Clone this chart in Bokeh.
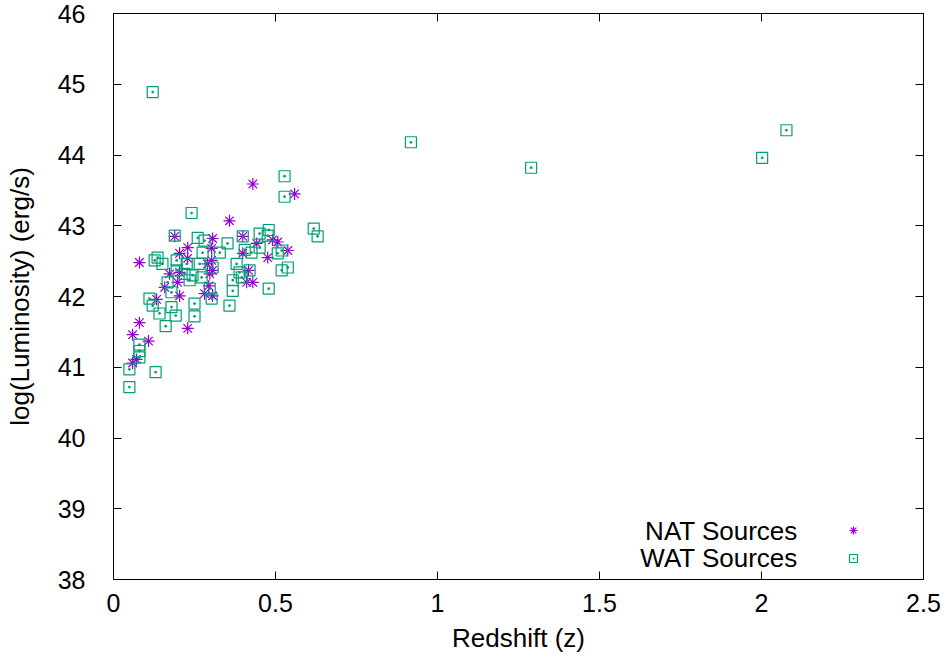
from bokeh.plotting import figure
from bokeh.models import (ColumnDataSource, LinearAxis, FixedTicker, Range1d,
                          Label, Legend, LegendItem)
from bokeh.embed import file_html
from bokeh.resources import INLINE

# ---- data ----
nat_z = [0.080, 0.358, 0.430, 0.559, 0.538, 0.507, 0.491, 0.476, 0.442, 0.399,
         0.399, 0.417, 0.411, 0.430, 0.306, 0.303, 0.290, 0.303, 0.306, 0.297,
         0.294, 0.281, 0.306, 0.229, 0.229, 0.204, 0.189, 0.173, 0.204, 0.198,
         0.158, 0.204, 0.133, 0.229, 0.080, 0.059, 0.108, 0.071, 0.059]
nat_l = [42.48, 43.07, 43.59, 43.45, 42.65, 42.77, 42.80, 42.55, 42.75, 42.85,
         42.61, 42.37, 42.20, 42.20, 42.82, 42.68, 42.46, 42.51, 42.37, 42.32,
         42.15, 42.04, 42.01, 42.69, 42.54, 42.61, 42.85, 42.32, 42.34, 42.20,
         42.13, 42.01, 41.96, 41.55, 41.63, 41.46, 41.37, 41.11, 41.06]

wat_z = [0.121, 0.918, 1.289, 2.002, 2.077, 0.241, 0.528, 0.528, 0.618, 0.630,
         0.519, 0.538, 0.519, 0.479, 0.479, 0.476, 0.451, 0.451, 0.426, 0.507,
         0.420, 0.368, 0.368, 0.358, 0.399, 0.352, 0.380, 0.389, 0.328, 0.306,
         0.281, 0.260, 0.275, 0.266, 0.226, 0.195, 0.151, 0.136, 0.127, 0.189,
         0.195, 0.219, 0.244, 0.272, 0.167, 0.235, 0.297, 0.303, 0.179, 0.250,
         0.250, 0.179, 0.192, 0.161, 0.142, 0.121, 0.111, 0.130, 0.049, 0.049,
         0.080, 0.080, 0.080, 0.405, 0.396]
wat_l = [44.89, 44.18, 43.82, 43.96, 44.35, 43.18, 43.70, 43.41, 42.96, 42.85,
         42.65, 42.41, 42.37, 42.11, 42.94, 42.86, 42.89, 42.69, 42.62, 42.61,
         42.37, 42.23, 42.08, 41.87, 42.85, 42.75, 42.46, 42.34, 42.62, 42.41,
         42.79, 42.83, 42.62, 42.46, 42.46, 42.51, 42.46, 42.55, 42.51, 42.86,
         42.37, 42.32, 42.30, 42.27, 42.20, 42.23, 42.11, 41.97, 42.06, 41.90,
         41.72, 41.85, 41.73, 41.58, 41.76, 41.87, 41.97, 40.93, 40.97, 40.72,
         41.32, 41.23, 41.14, 42.66, 42.27]

x_ticks = [0, 0.5, 1, 1.5, 2, 2.5]
x_tick_labels = ["0", "0.5", "1", "1.5", "2", "2.5"]
y_ticks = [38, 39, 40, 41, 42, 43, 44, 45, 46]
y_tick_labels = ["38", "39", "40", "41", "42", "43", "44", "45", "46"]

NAT_COLOR = "#9400D3"
WAT_COLOR = "#009E73"
FONT = "Liberation Sans"

p = figure(width=947, height=666, output_backend="svg", toolbar_location=None,
           x_range=Range1d(0, 2.5), y_range=Range1d(38, 46),
           min_border_left=113, min_border_right=24, min_border_top=13,
           min_border_bottom=87)
p.xgrid.visible = False
p.ygrid.visible = False
p.outline_line_color = "black"
p.outline_line_width = 1
p.background_fill_color = "white"
p.border_fill_color = "white"

nat_src = ColumnDataSource(dict(z=nat_z, l=nat_l))
wat_src = ColumnDataSource(dict(z=wat_z, l=wat_l))

r_nat = p.scatter("z", "l", source=nat_src, marker="asterisk", size=12,
                  line_color=NAT_COLOR, line_width=1.2)
r_wat = p.scatter("z", "l", source=wat_src, marker="square_dot", size=11,
                  line_color=WAT_COLOR, fill_color=None, line_width=1.2)

def style_axis(ax, show_labels):
    ax.axis_line_color = "black"
    ax.major_tick_line_color = "black"
    ax.major_tick_in = 8
    ax.major_tick_out = 0
    ax.minor_tick_line_color = None
    if show_labels:
        ax.major_label_text_font = FONT
        ax.major_label_text_font_size = "25px"
        ax.major_label_text_color = "black"
        ax.axis_label_text_font = FONT
        ax.axis_label_text_font_size = "26px"
        ax.axis_label_text_font_style = "normal"
        ax.axis_label_text_color = "black"
    else:
        ax.major_label_text_color = None
        ax.major_label_standoff = 0

xa = p.xaxis[0]
xa.ticker = FixedTicker(ticks=x_ticks)
xa.major_label_overrides = {t: s for t, s in zip(x_ticks, x_tick_labels)}
xa.axis_label = "Redshift (z)"
style_axis(xa, True)
xa.major_label_standoff = 14
xa.axis_label_standoff = 8

ya = p.yaxis[0]
ya.ticker = FixedTicker(ticks=y_ticks)
ya.major_label_overrides = {t: s for t, s in zip(y_ticks, y_tick_labels)}
ya.axis_label = "log(Luminosity) (erg/s)"
style_axis(ya, True)
ya.major_label_standoff = 28
ya.axis_label_standoff = 20

top = LinearAxis(ticker=FixedTicker(ticks=x_ticks))
style_axis(top, False)
p.add_layout(top, "above")
right = LinearAxis(ticker=FixedTicker(ticks=y_ticks))
style_axis(right, False)
p.add_layout(right, "right")

# legend: text right-aligned, sample glyph on the right (gnuplot style)
for txt, yv in [("NAT Sources", 38.69), ("WAT Sources", 38.30)]:
    p.add_layout(Label(x=2.112, y=yv, text=txt, text_align="right",
                       text_baseline="middle", text_font=FONT,
                       text_font_size="26px", text_color="black"))

leg = Legend(items=[LegendItem(label=" ", renderers=[r_nat]),
                    LegendItem(label=" ", renderers=[r_wat])],
             location=(730, 11), margin=0, padding=0, spacing=8,
             glyph_width=20, glyph_height=20, label_width=0,
             label_standoff=0, label_text_font_size="8px",
             border_line_color=None, background_fill_alpha=0)
p.add_layout(leg, "center")

open("out.html", "w").write(file_html(p, INLINE))
